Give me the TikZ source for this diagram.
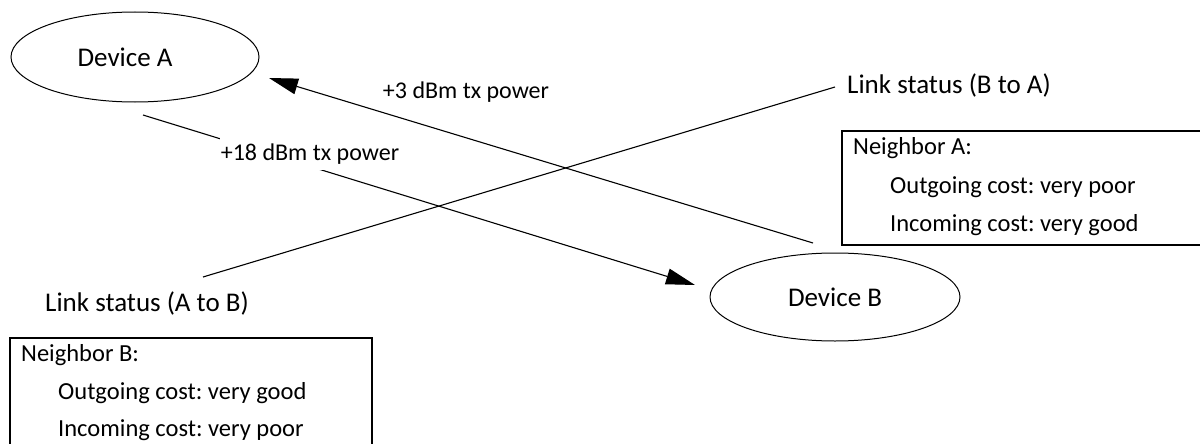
\documentclass[tikz,border=0pt]{standalone}
\usepackage{fontspec}
\setmainfont{Carlito}
\frenchspacing
\usetikzlibrary{arrows.meta,shapes.geometric}
\begin{document}
\begin{tikzpicture}[x=1pt,y=-1pt,
  lbl/.style={font=\fontsize{27}{31}\selectfont, inner sep=0pt},
  pwr/.style={font=\fontsize{24}{28}\selectfont, inner sep=0pt},
  boxtxt/.style={font=\fontsize{24.5}{28}\selectfont, inner sep=0pt, anchor=west},
  device/.style={draw, ellipse, line width=1pt, font=\fontsize{27}{31}\selectfont, inner sep=0pt},
  conn/.style={line width=1.1pt},
  arr/.style={conn, -{Triangle[length=29pt,width=16pt]}},
  frame/.style={draw, line width=1.8pt}]
\clip (0,0) rectangle (1200,444);
\fill[white] (0,0) rectangle (1200,444);
% devices
\node[device, minimum width=248pt, minimum height=90pt] (devA) at (135,57) {\hspace*{-20pt}Device A};
\node[device, minimum width=250pt, minimum height=88pt] (devB) at (835,297) {Device B};
% connector endpoints
\coordinate (aOut) at (143,115);
\coordinate (bIn) at (695,285);
\coordinate (bOut) at (813,243);
\coordinate (aIn) at (269,78);
\coordinate (lsA) at (203,277);
\coordinate (lsB) at (835,87);
% connectors
\draw[arr] (aOut) -- (bIn);
\draw[arr] (bOut) -- (aIn);
\draw[conn] (lsA) -- (lsB);
% labels
\node[pwr, fill=white, minimum height=32pt, inner xsep=1pt] (p18) at (310,154) {+18 dBm tx power};
\node[pwr] (p3) at (466,92) {+3 dBm tx power};
\node[lbl, anchor=west] (lsBA) at (847,85) {Link status (B to A)};
\node[lbl, anchor=west] (lsAB) at (45,303) {Link status (A to B)};
% neighbor boxes
\draw[frame] (842,131) rectangle (1210,245);
\node[boxtxt] (nA) at (853,148) {Neighbor A:};
\node[boxtxt] (nAo) at (890,187) {Outgoing cost: very poor};
\node[boxtxt] (nAi) at (890,225) {Incoming cost: very good};
\draw[frame] (10,338) rectangle (372,460);
\node[boxtxt] (nB) at (21,355) {Neighbor B:};
\node[boxtxt] (nBo) at (58,393) {Outgoing cost: very good};
\node[boxtxt] (nBi) at (58,430) {Incoming cost: very poor};
\end{tikzpicture}
\end{document}
